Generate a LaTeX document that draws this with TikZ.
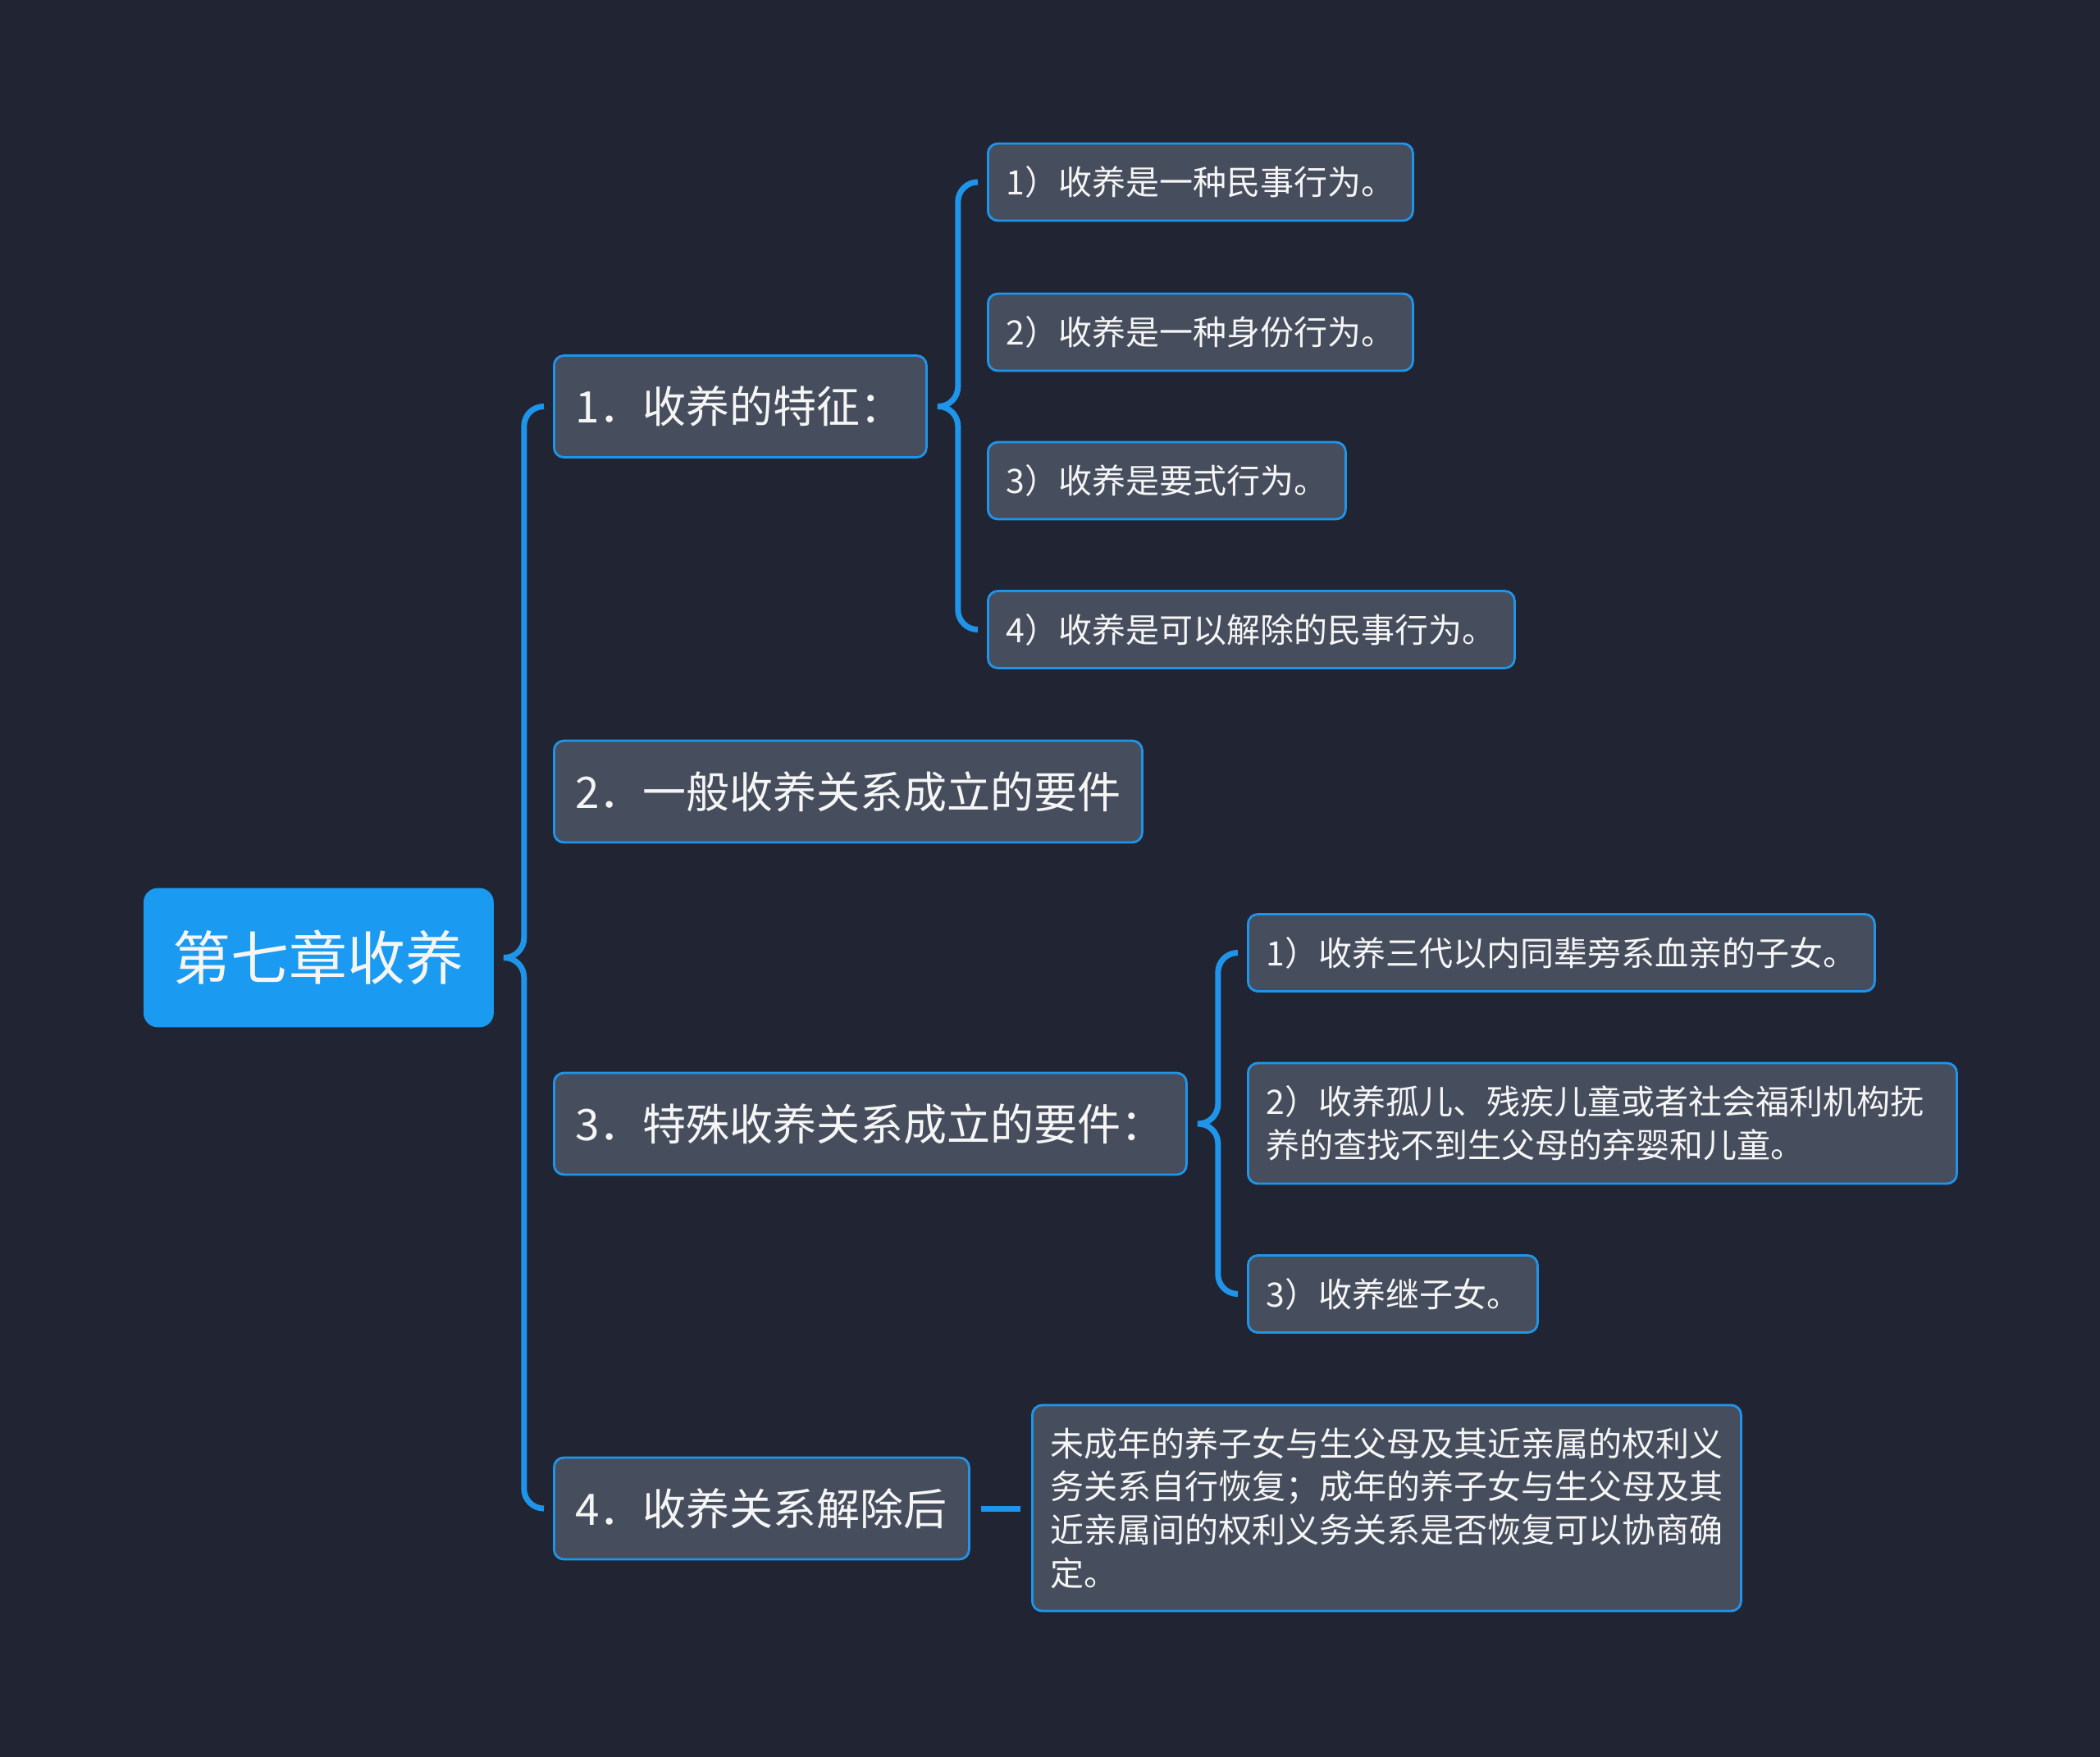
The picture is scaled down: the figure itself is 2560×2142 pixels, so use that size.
\documentclass[tikz,border=0pt]{standalone}
\usepackage{fontspec}
\newfontfamily\cjk{Noto Sans CJK SC}
\usetikzlibrary{calc}
\definecolor{bg}{HTML}{212533}
\definecolor{nodefill}{HTML}{464D5C}
\definecolor{lineblue}{HTML}{1E95EA}
\definecolor{rootblue}{HTML}{1A9AF0}
\definecolor{txt}{HTML}{F5F5F5}
\begin{document}
\begin{tikzpicture}[x=0.5pt,y=-0.5pt,
  base/.style={anchor=west, rounded corners=6pt, text=txt, inner ysep=0pt, align=left},
  rootbox/.style={base, rounded corners=8pt, fill=rootblue, draw=rootblue, line width=1.4pt,
    font=\cjk\fontsize{35.5}{42}\selectfont, inner xsep=0pt, align=center},
  lonebox/.style={base, fill=nodefill, draw=lineblue, line width=1.4pt,
    font=\cjk\fontsize{26.5}{32}\selectfont, inner xsep=13pt, minimum height=62pt},
  ltwobox/.style={base, fill=nodefill, draw=lineblue, line width=1.4pt,
    font=\cjk\fontsize{20.5}{26.4}\selectfont, inner xsep=11pt, minimum height=47pt},
  conn/.style={draw=lineblue, line width=3.5pt, rounded corners=12pt},
]
\fill[bg] (0,0) rectangle (2560,2142);
\useasboundingbox (0,0) rectangle (2560,2142);

% root
\node[rootbox, minimum width=212pt, minimum height=83.5pt] (root) at (175,1167.5) {第七章收养};

% level 1
\node[lonebox, text width=201pt] (n1) at (674,495.5) {1．收养的特征：};
\node[lonebox, text width=332.5pt] (n2) at (674,965) {2．一般收养关系成立的要件};
\node[lonebox, text width=359.5pt] (n3) at (674,1370) {3．特殊收养关系成立的要件：};
\node[lonebox, text width=227pt] (n4) at (674,1839) {4．收养关系解除后};

% children of n1
\node[ltwobox, text width=237pt] (c1a) at (1203,222) {1）收养是一种民事行为。};
\node[ltwobox, text width=237pt] (c1b) at (1203,405) {2）收养是一种身份行为。};
\node[ltwobox, text width=196pt] (c1c) at (1203,586) {3）收养是要式行为。};
\node[ltwobox, text width=299pt] (c1d) at (1203,767.5) {4）收养是可以解除的民事行为。};

% children of n3
\node[ltwobox, text width=360pt] (c3a) at (1520,1161.5) {1）收养三代以内同辈旁系血亲的子女。};
\node[ltwobox, text width=410pt, minimum height=73.5pt] (c3b) at (1520,1369.5)
  {2）收养孤儿、残疾儿童或者社会福利机构抚\\养的查找不到生父母的弃婴和儿童。};
\node[ltwobox, text width=154.5pt] (c3c) at (1520,1577.5) {3）收养继子女。};

% child of n4
\node[ltwobox, text width=410pt, minimum height=125.5pt] (c4) at (1257,1838.5)
  {未成年的养子女与生父母及其近亲属的权利义\\务关系自行恢复；成年的养子女与生父母及其\\近亲属间的权利义务关系是否恢复可以协商确\\定。};

% braces (only the outer children are reached by the curls)
\coordinate (rt) at ($(root.east)+(12,0)$);
\foreach \c in {n1,n4}
  \draw[conn] (rt) -- ++(25,0) |- ($(\c.west)+(-12,0)$);

\coordinate (t1) at ($(n1.east)+(12,0)$);
\foreach \c in {c1a,c1d}
  \draw[conn] (t1) -- ++(25,0) |- ($(\c.west)+(-12,0)$);

\coordinate (t3) at ($(n3.east)+(12,0)$);
\foreach \c in {c3a,c3c}
  \draw[conn] (t3) -- ++(25,0) |- ($(\c.west)+(-12,0)$);

\draw[conn, rounded corners=0pt] ($(n4.east)+(13,0)$) -- ($(n4.east -| c4.west)+(-13,0)$);
\end{tikzpicture}
\end{document}
